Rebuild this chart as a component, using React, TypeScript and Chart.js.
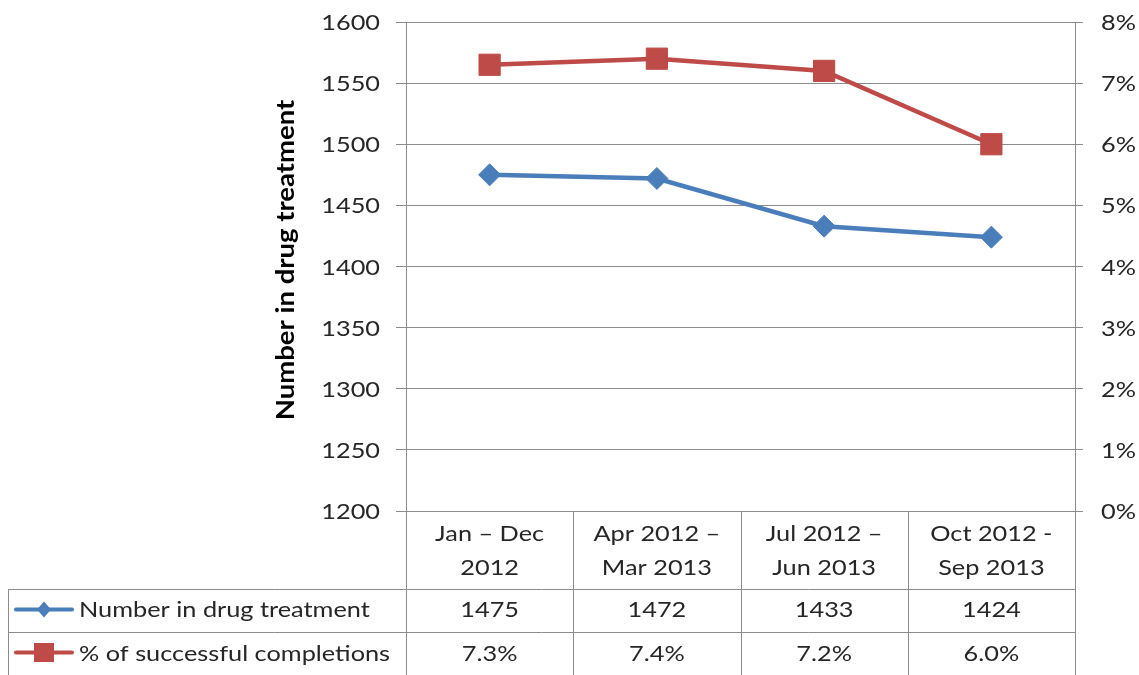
import React, { useEffect, useRef } from "react";
import { Chart, registerables } from "chart.js";

Chart.register(...registerables);

const categories: string[][] = [
  ["Jan – Dec", "2012"],
  ["Apr 2012 –", "Mar 2013"],
  ["Jul 2012 –", "Jun 2013"],
  ["Oct 2012 -", "Sep 2013"],
];
const treatmentCounts = [1475, 1472, 1433, 1424];
const completionPct = [7.3, 7.4, 7.2, 6.0];
const seriesNames = ["Number in drug treatment", "% of successful completions"];
const leftAxisTitle = "Number in drug treatment";
const leftMin = 1200, leftMax = 1600, leftStep = 50;
const rightMin = 0, rightMax = 8, rightStep = 1;

const BLUE = "#4A7EBB";
const RED = "#BE4B48";
const GRID = "#8c8c8c";
const TEXT = "#262626";
const FONT = "Lato";
const FS = 22;
const SX = 1.15;

const W = 1139, H = 675;

function text(
  ctx: CanvasRenderingContext2D,
  s: string,
  x: number,
  y: number,
  align: CanvasTextAlign,
  baseline: CanvasTextBaseline = "alphabetic",
  sx: number = SX
) {
  ctx.save();
  ctx.translate(x, y);
  ctx.scale(sx, 1);
  ctx.textAlign = align;
  ctx.textBaseline = baseline;
  ctx.fillText(s, 0, 0);
  ctx.restore();
}

function drawDiamond(ctx: CanvasRenderingContext2D, x: number, y: number, rx: number, ry: number) {
  ctx.beginPath();
  ctx.moveTo(x, y - ry);
  ctx.lineTo(x + rx, y);
  ctx.lineTo(x, y + ry);
  ctx.lineTo(x - rx, y);
  ctx.closePath();
  ctx.fill();
}

const textPlugin = {
  id: "textAndTable",
  afterDraw(chart: any) {
    const ctx: CanvasRenderingContext2D = chart.ctx;
    const xs = chart.scales.x;
    const ys = chart.scales.y;
    const ys1 = chart.scales.y1;
    const area = chart.chartArea;
    const n = categories.length;
    const centers = categories.map((_, i) => xs.getPixelForValue(i));
    const step = n > 1 ? centers[1] - centers[0] : area.right - area.left;
    const bounds = centers.map((c) => c - step / 2).concat([centers[n - 1] + step / 2]);
    const yTop = Math.round(area.bottom);
    const yRow1 = 589;
    const yRow2 = 632;
    const tableLeft = 8;

    ctx.save();
    // axis tick labels
    ctx.fillStyle = TEXT;
    ctx.font = `${FS}px ${FONT}`;
    ys.ticks.forEach((t: any) => {
      text(ctx, String(t.value), area.left - 26, ys.getPixelForValue(t.value) + 1, "right", "middle");
    });
    ys1.ticks.forEach((t: any) => {
      text(ctx, `${t.value}%`, area.right + 26, ys1.getPixelForValue(t.value) + 1, "left", "middle");
    });

    // table grid
    ctx.strokeStyle = GRID;
    ctx.lineWidth = 1;
    ctx.beginPath();
    ctx.moveTo(bounds[0], yTop + 0.5);
    ctx.lineTo(bounds[n], yTop + 0.5);
    ctx.moveTo(tableLeft, yRow1 + 0.5);
    ctx.lineTo(bounds[n], yRow1 + 0.5);
    ctx.moveTo(tableLeft, yRow2 + 0.5);
    ctx.lineTo(bounds[n], yRow2 + 0.5);
    bounds.forEach((b) => {
      const bx = Math.round(b) + 0.5;
      ctx.moveTo(bx, yTop);
      ctx.lineTo(bx, H);
    });
    ctx.moveTo(tableLeft + 0.5, yRow1);
    ctx.lineTo(tableLeft + 0.5, H);
    ctx.stroke();

    // table text
    ctx.fillStyle = TEXT;
    categories.forEach((lines, i) => {
      text(ctx, lines[0], centers[i], 541, "center");
      text(ctx, lines[1], centers[i], 575, "center");
    });
    treatmentCounts.forEach((v, i) => text(ctx, String(v), centers[i], 617, "center"));
    completionPct.forEach((v, i) => text(ctx, v.toFixed(1) + "%", centers[i], 661, "center"));

    text(ctx, seriesNames[0], 79, 617, "left");
    text(ctx, seriesNames[1], 79, 661, "left");

    // legend keys
    ctx.lineWidth = 4;
    ctx.lineCap = "round";
    ctx.strokeStyle = BLUE;
    ctx.beginPath();
    ctx.moveTo(16, 609.5);
    ctx.lineTo(72, 609.5);
    ctx.stroke();
    ctx.fillStyle = BLUE;
    drawDiamond(ctx, 44, 609.5, 7, 8);

    ctx.strokeStyle = RED;
    ctx.beginPath();
    ctx.moveTo(16, 652.5);
    ctx.lineTo(72, 652.5);
    ctx.stroke();
    ctx.fillStyle = RED;
    ctx.fillRect(34, 643, 20, 19);

    // y axis title
    ctx.save();
    ctx.translate(286, 260);
    ctx.rotate(-Math.PI / 2);
    ctx.scale(1.1, 1);
    ctx.fillStyle = "#000";
    ctx.font = `bold 25px ${FONT}`;
    ctx.textAlign = "center";
    ctx.textBaseline = "middle";
    ctx.fillText(leftAxisTitle, 0, 0);
    ctx.restore();

    ctx.restore();
  },
};

export default function App() {
  const ref = useRef<HTMLCanvasElement | null>(null);

  useEffect(() => {
    if (!ref.current) return;
    const chart = new Chart(ref.current, {
      type: "line",
      data: {
        labels: categories.map((c) => c.join(" ")),
        datasets: [
          {
            label: seriesNames[0],
            data: treatmentCounts,
            yAxisID: "y",
            borderColor: BLUE,
            backgroundColor: BLUE,
            borderWidth: 4.5,
            pointStyle: "rectRot",
            pointRadius: 11,
            pointBorderWidth: 1,
            pointBackgroundColor: BLUE,
            pointBorderColor: BLUE,
            tension: 0,
          },
          {
            label: seriesNames[1],
            data: completionPct,
            yAxisID: "y1",
            borderColor: RED,
            backgroundColor: RED,
            borderWidth: 4.5,
            pointStyle: "rect",
            pointRadius: 15,
            pointBorderWidth: 1,
            pointBackgroundColor: RED,
            pointBorderColor: RED,
            tension: 0,
          },
        ],
      },
      options: {
        animation: false,
        responsive: false,
        maintainAspectRatio: false,
        layout: { padding: { top: 22, bottom: H - 511, left: 0, right: 0 } },
        plugins: {
          legend: { display: false },
          tooltip: { enabled: false },
          title: { display: false },
        },
        scales: {
          x: {
            type: "category",
            display: false,
            offset: true,
          },
          y: {
            position: "left",
            min: leftMin,
            max: leftMax,
            afterFit: (s: any) => {
              s.width = 406;
            },
            ticks: { stepSize: leftStep, display: false },
            grid: {
              color: GRID,
              lineWidth: 1,
              tickLength: 10,
              drawTicks: true,
            },
            border: { display: true, color: GRID, width: 1 },
          },
          y1: {
            position: "right",
            min: rightMin,
            max: rightMax,
            afterFit: (s: any) => {
              s.width = W - 1075;
            },
            ticks: { stepSize: rightStep, display: false },
            grid: {
              color: GRID,
              lineWidth: 1,
              tickLength: 8,
              drawOnChartArea: false,
              drawTicks: true,
            },
            border: { display: true, color: GRID, width: 1 },
          },
        },
      },
      plugins: [textPlugin],
    });
    return () => chart.destroy();
  }, []);

  return (
    <div style={{ position: "absolute", left: 0, top: 0, width: W, height: H, background: "#fff" }}>
      <canvas ref={ref} width={W} height={H} style={{ display: "block", width: W, height: H }} />
    </div>
  );
}
